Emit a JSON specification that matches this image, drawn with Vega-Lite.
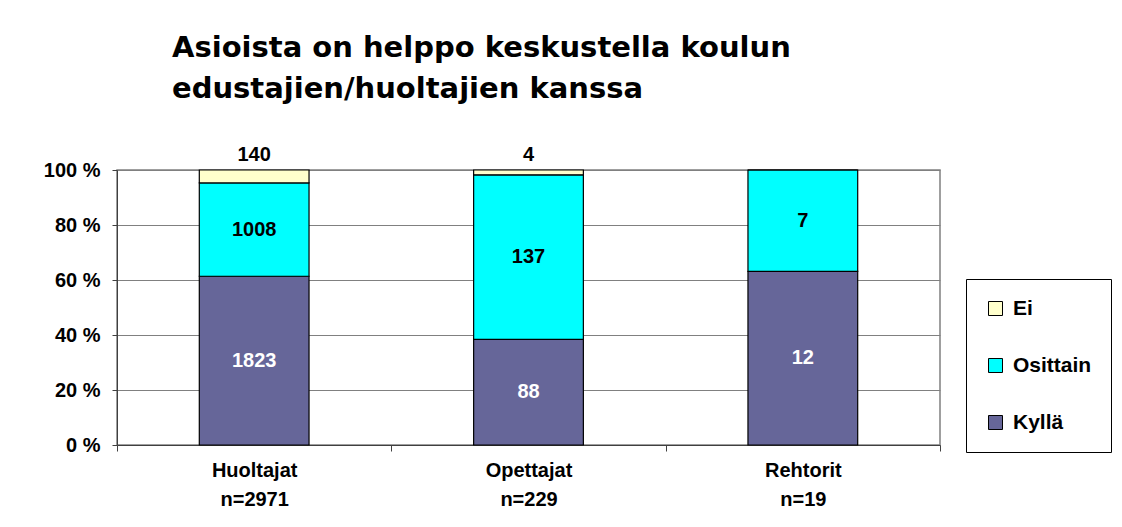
{
  "$schema": "https://vega.github.io/schema/vega-lite/v6.json",
  "width": 823,
  "height": 275,
  "autosize": {"type": "none"},
  "padding": {"left": 117, "top": 170, "right": 182, "bottom": 82},
  "background": "white",
  "title": {
    "text": ["Asioista on helppo keskustella koulun", "edustajien/huoltajien kanssa"],
    "font": "DejaVu Sans",
    "fontSize": 29,
    "fontWeight": "bold",
    "color": "#000000",
    "anchor": "start",
    "frame": "group",
    "dx": 55,
    "lineHeight": 41,
    "offset": 41
  },
  "config": {
    "view": {"stroke": "#808080", "strokeWidth": 1.5},
    "font": "Liberation Sans"
  },
  "data": {
    "values": [
      {"ryhma": "Huoltajat|n=2971", "vastaus": "Kyllä", "n": 1823},
      {"ryhma": "Huoltajat|n=2971", "vastaus": "Osittain", "n": 1008},
      {"ryhma": "Huoltajat|n=2971", "vastaus": "Ei", "n": 140},
      {"ryhma": "Opettajat|n=229", "vastaus": "Kyllä", "n": 88},
      {"ryhma": "Opettajat|n=229", "vastaus": "Osittain", "n": 137},
      {"ryhma": "Opettajat|n=229", "vastaus": "Ei", "n": 4},
      {"ryhma": "Rehtorit|n=19", "vastaus": "Kyllä", "n": 12},
      {"ryhma": "Rehtorit|n=19", "vastaus": "Osittain", "n": 7},
      {"ryhma": "Rehtorit|n=19", "vastaus": "Ei", "n": 0}
    ]
  },
  "transform": [
    {"calculate": "indexof(['Kyllä','Osittain','Ei'], datum.vastaus)", "as": "ord"},
    {"stack": "n", "groupby": ["ryhma"], "sort": [{"field": "ord"}], "offset": "normalize", "as": ["y0", "y1"]},
    {"calculate": "(datum.y0 + datum.y1) / 2", "as": "ymid"}
  ],
  "encoding": {
    "x": {
      "field": "ryhma",
      "type": "nominal",
      "sort": null,
      "scale": {"paddingInner": 0, "paddingOuter": 0},
      "axis": {
        "title": null,
        "labelAngle": 0,
        "labelExpr": "split(datum.label, '|')",
        "labelFont": "Liberation Sans",
        "labelFontSize": 20,
        "labelFontWeight": "bold",
        "labelColor": "#000000",
        "labelLineHeight": 29,
        "labelPadding": 9,
        "tickBand": "extent",
        "tickSize": 6,
        "tickColor": "#404040",
        "domainColor": "#404040",
        "grid": false
      }
    }
  },
  "layer": [
    {
      "mark": {"type": "bar", "width": {"band": 0.4}, "stroke": "#000000", "strokeWidth": 1.2},
      "encoding": {
        "y": {
          "field": "y1",
          "type": "quantitative",
          "scale": {"domain": [0, 1], "nice": false},
          "axis": {
            "title": null,
            "values": [0, 0.2, 0.4, 0.6, 0.8, 1],
            "labelExpr": "format(datum.value * 100, 'd') + ' %'",
            "labelFont": "Liberation Sans",
            "labelFontSize": 20,
            "labelFontWeight": "bold",
            "labelColor": "#000000",
            "labelPadding": 12,
            "tickSize": 5,
            "tickColor": "#404040",
            "domainColor": "#404040",
            "grid": true,
            "gridColor": "#808080",
            "gridWidth": 1
          }
        },
        "y2": {"field": "y0"},
        "color": {
          "field": "vastaus",
          "type": "nominal",
          "scale": {"domain": ["Ei", "Osittain", "Kyllä"], "range": ["#FFFFCC", "#00FFFF", "#666699"]},
          "legend": {
            "title": null,
            "orient": "none",
            "legendX": 849,
            "legendY": 109,
            "padding": 19,
            "strokeColor": "#000000",
            "fillColor": "#FFFFFF",
            "symbolType": "square",
            "symbolSize": 196,
            "symbolStrokeColor": "#000000",
            "symbolStrokeWidth": 1,
            "symbolOpacity": 1,
            "labelFont": "Liberation Sans",
            "labelFontSize": 21,
            "labelFontWeight": "bold",
            "labelColor": "#000000",
            "labelOffset": 7,
            "rowPadding": 35,
            "labelLimit": 300
          }
        }
      }
    },
    {
      "transform": [{"filter": "datum.vastaus !== 'Ei'"}],
      "mark": {"type": "text", "font": "Liberation Sans", "fontSize": 20, "fontWeight": "bold", "baseline": "middle"},
      "encoding": {
        "y": {"field": "ymid", "type": "quantitative"},
        "text": {"field": "n", "type": "quantitative"},
        "color": {"condition": {"test": "datum.vastaus === 'Kyllä'", "value": "#FFFFFF"}, "value": "#000000"}
      }
    },
    {
      "transform": [{"filter": "datum.vastaus === 'Ei' && datum.n > 0"}],
      "mark": {"type": "text", "font": "Liberation Sans", "fontSize": 20, "fontWeight": "bold", "baseline": "middle", "dy": -15, "color": "#000000"},
      "encoding": {
        "y": {"field": "y1", "type": "quantitative"},
        "text": {"field": "n", "type": "quantitative"}
      }
    }
  ]
}
